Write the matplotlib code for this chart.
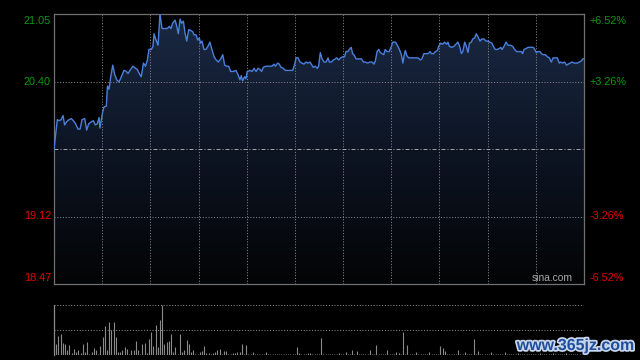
import numpy as np
import matplotlib
matplotlib.use('Agg')
import matplotlib.pyplot as plt
from matplotlib.patches import Polygon
from matplotlib.colors import LinearSegmentedColormap
import matplotlib.patheffects as pe

plt.rcParams['font.family'] = ['Liberation Sans', 'DejaVu Sans']

# intraday price, minutes from open (0..240) and price
minutes = [0, 1.5, 2.3, 3.3, 4.1, 4.8, 5.7, 6.8, 7.8, 8.8, 9.8, 10.9, 11.8, 12.7, 13.9,
           14.8, 15.7, 16.9, 17.8, 18.7, 19.6, 20.4, 20.8, 21.9, 22.6, 23.7, 24.2, 24.9,
           25.7, 26.6, 27.5, 28.4, 29.4, 30.5, 31.7, 32.8, 33.5, 34.7, 35.8, 36.8, 37.7,
           38.6, 39.5, 40.5, 41.4, 42.3, 43.0, 44.1, 44.8, 45.3, 46.2, 47.1, 48.0,
           48.9, 50.3, 51.3, 52.2, 53.0, 53.7, 54.8, 55.5, 56.3, 57.1, 57.8, 58.6, 59.3,
           60.1, 61.0, 61.9, 62.8, 63.4, 64.3, 65.1, 65.8, 66.4, 67.0, 67.9, 68.8, 69.7,
           70.6, 71.5, 72.5, 73.4, 74.4, 75.5, 76.4, 77.3, 78.2, 79.1, 80.0, 81.2, 82.4,
           83.3, 84.2, 84.8, 85.4, 86.3, 86.9, 87.5, 88.8, 89.7, 90.6, 91.5, 92.4, 93.3,
           94.0, 94.8, 96.0,
           97.5, 98.7, 99.6, 100.2, 101.3, 102.0, 102.8, 103.8, 104.8, 105.8, 106.9,
           108.1, 109.0, 109.6, 110.5, 111.4, 112.3, 113.2, 114.1, 115.0, 115.9, 116.5,
           117.4, 118.3, 119.2, 119.8, 120.6, 121.4, 122.3, 123.2, 124.1, 124.7, 125.6,
           126.5, 127.4, 128.0, 128.9, 129.8, 130.7, 131.6, 132.2, 133.1, 133.7, 134.6,
           135.2, 135.8, 136.8, 138.0, 139.2, 140.1, 141.0, 142.0, 143.1, 144.0,
           144.9, 145.5, 146.3, 147.0, 147.8, 148.5, 149.3, 150.0, 150.8, 151.8, 152.8,
           153.4, 154.6, 155.5, 156.4, 157.3, 158.0, 158.6, 159.1, 159.8, 160.6, 162.1,
           163.6, 164.8, 165.9, 166.6, 167.5, 168.5, 169.4, 170.3, 170.9, 171.9, 172.7,
           173.6, 174.2, 175.1, 176.0, 176.9, 177.8, 178.4, 179.0, 180.2, 181.1, 182.0,
           182.9, 183.7, 184.5, 185.1, 186.0, 186.7, 187.5, 188.1, 189.0, 189.6, 190.5,
           191.2, 192.0,
           192.9, 193.8, 194.7, 195.6, 196.5, 197.4, 198.3, 199.2, 199.8, 200.8, 201.7,
           202.3, 202.9, 203.8, 204.7, 205.6, 206.8, 207.7, 208.6, 209.5, 210.7, 211.6,
           212.2, 212.8, 213.9, 214.6, 215.8, 217.1, 217.7, 218.4, 219.2, 220.1, 220.7,
           221.6, 222.5, 223.4, 224.3, 225.2, 226.0, 227.0, 227.9, 228.8, 229.4, 230.3,
           231.2, 232.1, 232.8, 233.7, 234.6, 235.5, 236.4, 237.0, 237.9, 238.8, 239.4,
           240.0]
prices = [19.76, 20.04, 20.03, 20.04, 20.08, 19.99, 20.02, 20.04, 20.05, 20.03, 20.00,
          19.95, 19.95, 20.04, 20.05, 19.94, 20.00, 20.02, 20.03, 19.99, 20.00, 20.06,
          19.96, 20.10, 20.16, 20.17, 20.36, 20.33, 20.45, 20.56, 20.47, 20.42, 20.40,
          20.45, 20.51, 20.50, 20.48, 20.52, 20.55, 20.53, 20.52, 20.48, 20.45, 20.58,
          20.55, 20.61, 20.71, 20.71, 20.74, 20.86, 20.80, 20.75, 21.05,
          20.91, 20.91, 20.91, 20.93, 20.91, 20.96, 20.99, 20.94, 20.86, 21.00, 20.96,
          20.98, 20.87, 20.79, 20.90, 20.89, 20.88, 20.85, 20.85, 20.80, 20.82, 20.77,
          20.79, 20.71, 20.71, 20.74, 20.78, 20.71, 20.64, 20.61, 20.59, 20.62, 20.66,
          20.56, 20.55, 20.55, 20.50, 20.50, 20.51, 20.47, 20.42, 20.46, 20.41, 20.45,
          20.43, 20.50, 20.51, 20.50, 20.53, 20.50, 20.53, 20.52, 20.50, 20.54, 20.55,
          20.55, 20.55, 20.57, 20.55, 20.58, 20.57, 20.54, 20.53, 20.51, 20.51, 20.51,
          20.51, 20.57, 20.63, 20.63, 20.59, 20.58, 20.57, 20.59, 20.58, 20.59, 20.57,
          20.54, 20.55, 20.53, 20.55, 20.68, 20.62, 20.59, 20.59, 20.63, 20.59, 20.59,
          20.61, 20.62, 20.63, 20.61, 20.63, 20.64, 20.64, 20.69, 20.69, 20.71, 20.73,
          20.67, 20.66, 20.62, 20.62, 20.62, 20.59, 20.59, 20.58, 20.59, 20.59,
          20.57, 20.60, 20.69, 20.71, 20.68, 20.67, 20.66, 20.71, 20.69, 20.69, 20.74,
          20.78, 20.78, 20.75, 20.71, 20.66, 20.58, 20.66, 20.70, 20.65, 20.63, 20.63,
          20.63, 20.63, 20.61, 20.62, 20.67, 20.67, 20.67, 20.69, 20.67, 20.67, 20.69,
          20.70, 20.74, 20.77, 20.76, 20.78, 20.76, 20.78, 20.74, 20.73, 20.74, 20.76,
          20.78, 20.74, 20.67, 20.69, 20.78, 20.74, 20.68, 20.77, 20.78, 20.81, 20.82,
          20.86, 20.83,
          20.79, 20.81, 20.81, 20.79, 20.79, 20.78, 20.77, 20.73, 20.71, 20.71, 20.72,
          20.73, 20.71, 20.74, 20.78, 20.75, 20.75, 20.74, 20.71, 20.69, 20.69, 20.69,
          20.67, 20.71, 20.72, 20.73, 20.73, 20.73, 20.71, 20.68, 20.69, 20.69, 20.67,
          20.66, 20.66, 20.64, 20.63, 20.59, 20.63, 20.63, 20.63, 20.58, 20.59, 20.58,
          20.59, 20.56, 20.57, 20.58, 20.59, 20.58, 20.58, 20.58, 20.59, 20.60, 20.62,
          20.62]

# volume per minute, relative to the biggest bar
volume = [11, 22, 38, 43, 24, 23, 11, 20, 5, 13, 7, 10, 5, 22, 7, 26, 3, 7, 15, 10,
          3, 18, 36, 58,
          11, 66, 50, 66, 36, 7, 7, 10, 17, 13, 3, 11, 11, 28, 11, 3, 23, 24, 5, 33,
          46, 18, 60, 17, 70, 100,
          23, 26, 28, 42, 7, 17, 3, 42, 7, 11, 30, 23, 7, 10, 3, 3, 7, 8, 18, 5,
          5, 3, 5, 7, 11, 13, 3, 8, 8, 2, 3, 5, 5, 7, 7, 23, 3, 20, 2, 2, 7, 2,
          2, 3, 2, 2, 7, 2, 2, 3, 2, 2, 2, 3, 2, 2, 2, 3, 2, 2, 17, 5, 2, 3, 2, 5,
          5, 2, 3, 2,
          2, 35, 2, 3, 2, 2, 3, 2, 2, 5,
          2, 3, 7, 2, 2, 10, 2, 8, 3, 2,
          2, 3, 2, 10, 2, 3, 20, 2, 2, 3,
          2, 11, 2, 3, 2, 7, 5, 2, 46, 2,
          20, 2, 3, 2, 7, 2, 2, 3, 2, 2,
          7, 2, 3, 2, 2, 18, 15, 8, 2, 3,
          2, 2, 3, 10, 2, 2, 7, 2, 3, 2,
          33, 2, 8, 2, 3, 2, 2, 2, 7, 2,
          3, 2, 2, 2, 7, 2, 3, 2, 2, 2,
          4, 2, 2, 3, 2, 3, 2, 2, 2, 3,
          5, 2, 2, 3, 2, 2, 4, 2, 2, 3,
          2, 2, 5, 2, 3, 2, 3, 2, 2, 2,
          3]

prev_close = 19.76
left_labels = ['21.05', '20.40', '19.12', '18.47']
right_labels = ['+6.52%', '+3.26%', '-3.26%', '-6.52%']
pcts = [0.0652, 0.0326, -0.0326, -0.0652]

GREEN = '#0a9a0a'
RED = '#e00000'
GRID = '#8a8a8a'
DOTS = (0, (1, 1.8))

fig = plt.figure(figsize=(6.4, 3.6), dpi=100, facecolor='black')

ax = fig.add_axes([54 / 640, 1 - 284 / 360, 530 / 640, 270 / 360])
ax.set_facecolor('black')
ymin = prev_close * (1 + pcts[3])
ymax = prev_close * (1 + pcts[0])
ax.set_xlim(0, 240)
ax.set_ylim(ymin, ymax)

# gradient fill under the price line
verts = list(zip(minutes, prices)) + [(240, ymin), (0, ymin)]
poly = Polygon(verts, closed=True, facecolor='none', edgecolor='none')
ax.add_patch(poly)
cmap = LinearSegmentedColormap.from_list('fill', ['#030405', '#0d1524', '#1a2944'])
grad = np.linspace(0, 1, 256).reshape(-1, 1)
im = ax.imshow(grad, extent=[0, 240, ymin, ymax], origin='lower', aspect='auto',
               cmap=cmap, zorder=1, interpolation='bilinear')
im.set_clip_path(poly)

# grid: 11 columns, two price levels, dash-dot at previous close
for i in range(1, 11):
    ax.axvline(i * 240 / 11, color=GRID, lw=0.72, ls=DOTS, zorder=2)
for p in [pcts[1], pcts[2]]:
    ax.axhline(prev_close * (1 + p), color=GRID, lw=0.72, ls=DOTS, zorder=2)
ax.axhline(prev_close, color='#a0a0a0', lw=0.72, ls=(0, (4, 2, 1, 2)), zorder=2)

ax.plot(minutes, prices, color='#4a80dc', lw=1.0, zorder=3)

for s in ax.spines.values():
    s.set_color('#707070')
    s.set_linewidth(0.9)
ax.set_xticks([])
ax.set_yticks([])

offsets = [-4.7, 0, 0, 4.3]
colors = [GREEN, GREEN, RED, RED]
for lab, rlab, p, dy, c in zip(left_labels, right_labels, pcts, offsets, colors):
    v = prev_close * (1 + p)
    ax.annotate(lab, xy=(0, v), xycoords=('axes fraction', 'data'),
                xytext=(-2.2, dy), textcoords='offset points',
                ha='right', va='center', color=c, fontsize=7.8)
    ax.annotate(rlab, xy=(1, v), xycoords=('axes fraction', 'data'),
                xytext=(4.3, dy), textcoords='offset points',
                ha='left', va='center', color=c, fontsize=7.8)

ax.text(573 / 640, 1 - 281 / 360, 'sina.com', transform=fig.transFigure,
        ha='right', va='baseline', color='#a8a8a8', fontsize=7.4)

# volume panel
vax = fig.add_axes([54 / 640, 1 - 355 / 360, 530 / 640, 50 / 360])
vax.set_facecolor('black')
vax.set_xlim(0, 240)
vax.set_ylim(0, 100)
vax.vlines(np.arange(len(volume)), 0, volume, color='#8a8a8a', lw=0.8)
vax.axhline(50, color=GRID, lw=0.72, ls=DOTS)
vax.axhline(100, color=GRID, lw=0.72, ls=DOTS)
vax.axhline(0, color=GRID, lw=0.72, ls=DOTS)
vax.axvline(240, color=GRID, lw=0.72, ls=DOTS)
for s in ['top', 'bottom', 'right']:
    vax.spines[s].set_visible(False)
vax.spines['left'].set_color('#8a8a8a')
vax.spines['left'].set_linewidth(0.9)
vax.set_xticks([])
vax.set_yticks([])

fig.text(635 / 640, 1 - 350 / 360, 'www.365jz.com', ha='right', va='baseline',
         color='#1f4e9c', fontsize=11.5, fontweight='bold',
         path_effects=[pe.withStroke(linewidth=2.5, foreground='#c9d6ea')])

fig.savefig('out.png', dpi=100, facecolor='black')
